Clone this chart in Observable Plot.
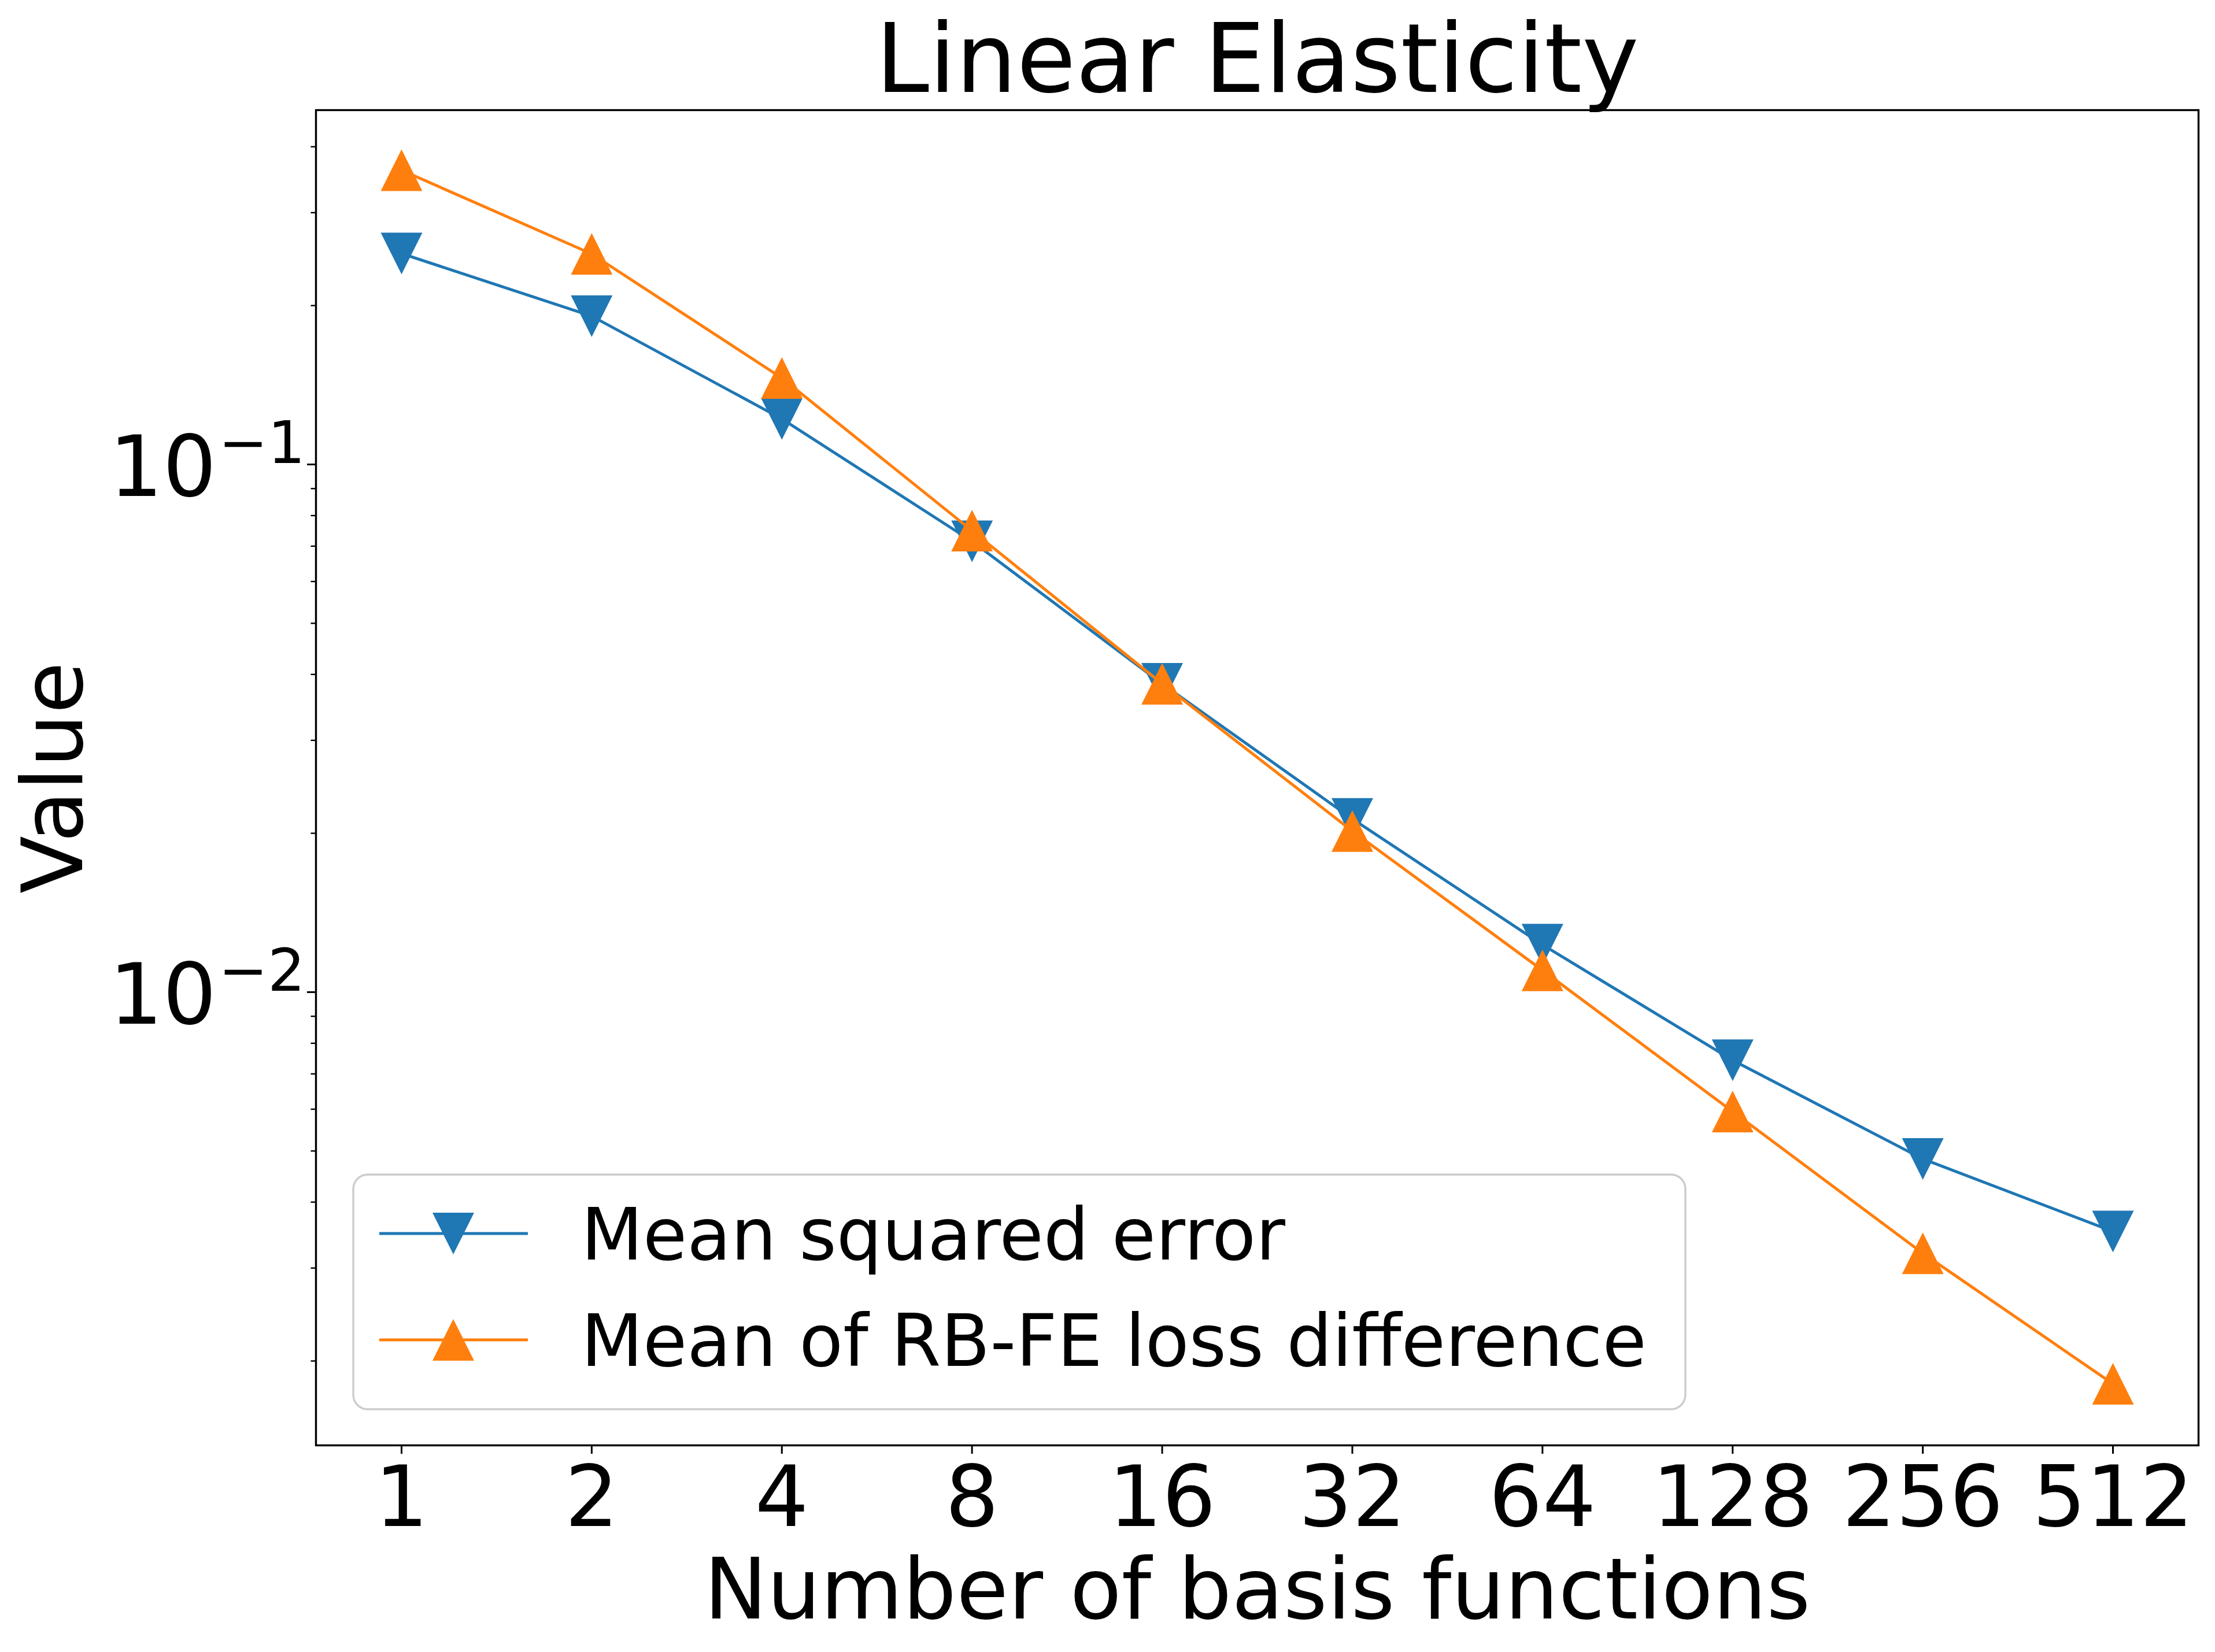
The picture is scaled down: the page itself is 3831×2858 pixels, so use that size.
<!DOCTYPE html>
<html>
<head>
<meta charset="utf-8">
<script src="https://cdn.jsdelivr.net/npm/d3@7"></script>
<script src="https://cdn.jsdelivr.net/npm/@observablehq/plot@0.6"></script>
<style>
  html, body { margin: 0; padding: 0; background: #ffffff; }
  #chart { width: 3831px; height: 2858px; }
</style>
</head>
<body>
<div id="chart"></div>
<script>
// ---- Data ----
const basisFunctions = [1, 2, 4, 8, 16, 32, 64, 128, 256, 512];
const meanSquaredError = [0.251, 0.191, 0.122, 0.0715, 0.0384, 0.0213, 0.0123, 0.00743, 0.00483, 0.00352];
const rbFeLossDifference = [0.361, 0.2506, 0.1458, 0.0749, 0.0384, 0.0202, 0.0110, 0.00594, 0.0032, 0.00181];
const seriesNames = ["Mean squared error", "Mean of RB-FE loss difference"];
const seriesColors = ["#1f77b4", "#ff7f0e"];
const xTickLabels = ["1", "2", "4", "8", "16", "32", "64", "128", "256", "512"];
const yMajorTicks = [0.1, 0.01];
const yMajorExponents = ["\u22121", "\u22122"];
const yMinorTicks = [0.002, 0.003, 0.004, 0.005, 0.006, 0.007, 0.008, 0.009,
                     0.02, 0.03, 0.04, 0.05, 0.06, 0.07, 0.08, 0.09,
                     0.2, 0.3, 0.4];
const titleText = "Linear Elasticity";
const xLabel = "Number of basis functions";
const yLabel = "Value";

// ---- Tables built from the arrays ----
const mseRows = basisFunctions.map((n, i) => ({n, value: meanSquaredError[i]}));
const rbRows = basisFunctions.map((n, i) => ({n, value: rbFeLossDifference[i]}));

// matplotlib-like triangles (width == height)
const triangleDown = {
  draw(ctx, size) {
    const h = Math.sqrt(size / Math.PI);
    ctx.moveTo(0, h); ctx.lineTo(-h, -h); ctx.lineTo(h, -h); ctx.closePath();
  }
};
const triangleUp = {
  draw(ctx, size) {
    const h = Math.sqrt(size / Math.PI);
    ctx.moveTo(0, -h); ctx.lineTo(-h, h); ctx.lineTo(h, h); ctx.closePath();
  }
};

const W = 3831, H = 2858;
const mL = 546, mR = 29, mT = 190, mB = 358;
const markerR = 36;
const lineW = 5;

const chart = Plot.plot({
  width: W,
  height: H,
  marginLeft: mL,
  marginRight: mR,
  marginTop: mT,
  marginBottom: mB,
  style: {fontFamily: "DejaVu Sans", background: "white", color: "black"},
  x: {type: "log", base: 2, domain: [Math.pow(2, -0.45), Math.pow(2, 9.45)]},
  y: {type: "log", domain: [0.001384, 0.4693]},
  marks: [
    Plot.axisX({ticks: basisFunctions, tickFormat: (d) => xTickLabels[basisFunctions.indexOf(d)],
                tickSize: 15, tickPadding: 21, fontSize: 146, strokeWidth: 3, label: null}),
    Plot.axisY({ticks: yMajorTicks, tickSize: 15, tickFormat: () => "", strokeWidth: 3, label: null}),
    Plot.axisY({ticks: yMinorTicks, tickSize: 8.5, tickFormat: () => "", strokeWidth: 2.4, label: null}),
    Plot.text(yMajorTicks, {y: (d) => d, frameAnchor: "left", text: () => "10",
                            textAnchor: "end", lineAnchor: "bottom", dx: -172, dy: 55, fontSize: 146}),
    Plot.text(yMajorTicks, {y: (d) => d, frameAnchor: "left", text: (d, i) => yMajorExponents[i],
                            textAnchor: "end", lineAnchor: "bottom", dx: -18.5, dy: -2, fontSize: 102}),
    Plot.line(mseRows, {x: "n", y: "value", stroke: seriesColors[0], strokeWidth: lineW}),
    Plot.dot(mseRows, {x: "n", y: "value", symbol: triangleDown, r: markerR, fill: seriesColors[0], stroke: "none"}),
    Plot.line(rbRows, {x: "n", y: "value", stroke: seriesColors[1], strokeWidth: lineW}),
    Plot.dot(rbRows, {x: "n", y: "value", symbol: triangleUp, r: markerR, fill: seriesColors[1], stroke: "none"}),
    Plot.frame({stroke: "black", strokeWidth: 3.4}),
    Plot.text([titleText], {frameAnchor: "top", textAnchor: "middle", lineAnchor: "bottom", dy: -32, fontSize: 166}),
    Plot.text([xLabel], {frameAnchor: "bottom", textAnchor: "middle", lineAnchor: "bottom", dy: 299, fontSize: 146}),
    Plot.text([yLabel], {frameAnchor: "left", textAnchor: "middle", rotate: -90, lineAnchor: "top", dx: -508, fontSize: 146})
  ]
});

// ---- Legend (inside the axes, lower left) ----
const svg = d3.select(chart);
const lg = svg.append("g").attr("class", "legend");
const lgX = mL + 65, lgY = mT + 1842, lgW = 2304, lgH = 406;
lg.append("rect")
  .attr("x", lgX).attr("y", lgY).attr("width", lgW).attr("height", lgH)
  .attr("rx", 25).attr("ry", 25)
  .attr("fill", "white").attr("fill-opacity", 0.8)
  .attr("stroke", "#cccccc").attr("stroke-width", 3.4);
const rowYs = [lgY + 102, lgY + 286];
const symbols = [triangleDown, triangleUp];
seriesNames.forEach((name, i) => {
  const y = rowYs[i];
  lg.append("line")
    .attr("x1", lgX + 45).attr("x2", lgX + 302)
    .attr("y1", y).attr("y2", y)
    .attr("stroke", seriesColors[i]).attr("stroke-width", lineW);
  lg.append("path")
    .attr("d", d3.symbol(symbols[i], markerR * markerR * Math.PI)())
    .attr("transform", `translate(${lgX + 173},${y})`)
    .attr("fill", seriesColors[i]);
  lg.append("text")
    .attr("x", lgX + 394).attr("y", y + 45)
    .attr("text-anchor", "start")
    .attr("font-family", "DejaVu Sans").attr("font-size", 124)
    .attr("fill", "black")
    .text(name);
});

document.getElementById("chart").appendChild(chart);
</script>
</body>
</html>
